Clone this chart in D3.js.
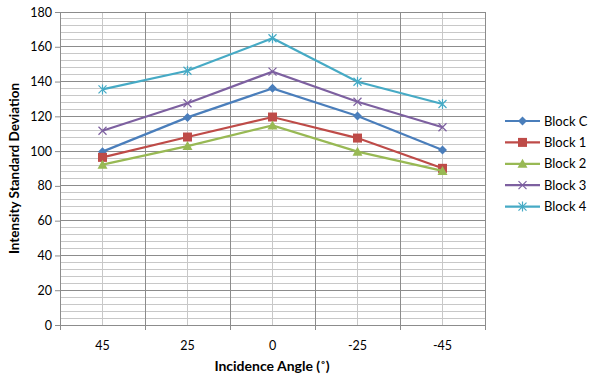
<!DOCTYPE html>
<html><head><meta charset="utf-8">
<script src="https://cdn.jsdelivr.net/npm/d3@7"></script>
<style>body{margin:0;background:#fff;} text{font-family:Lato,"Open Sans",sans-serif;}</style>
</head><body>
<svg id="c" width="594" height="378"></svg>
<script>
const categories = ["45","25","0","-25","-45"];
const seriesNames = ["Block C","Block 1","Block 2","Block 3","Block 4"];
const blockC = [99.7,119.4,136.1,120.2,100.6];
const block1 = [96.4,108.1,119.6,107.5,90.1];
const block2 = [92.2,102.9,114.8,99.7,88.6];
const block3 = [111.7,127.5,145.7,128.4,113.7];
const block4 = [135.5,146.2,164.9,139.9,127.1];
const yTicks = [0,20,40,60,80,100,120,140,160,180];
const colors = ["#4A7EBB","#BE4B48","#98B954","#7D60A0","#46AAC5"];
const markers = ["diamond","square","triangle","x","star"];
const seriesData = [blockC,block1,block2,block3,block4];

const svg = d3.select("#c");
const L=60,R=485,T=12,B=325;
const x = d3.scaleBand().domain(categories).range([L,R]);
const y = d3.scaleLinear().domain([0,180]).range([B,T]);

const g = svg.append("g");
d3.range(0,181,4).forEach(v=>{
  if(v%20!==0) g.append("line").attr("x1",L).attr("x2",R).attr("y1",y(v)).attr("y2",y(v)).attr("stroke","#c8c8c8").attr("stroke-width",1).attr("shape-rendering","crispEdges");
});
categories.forEach(c=>{
  const cx=x(c)+x.bandwidth()/2;
  g.append("line").attr("x1",cx).attr("x2",cx).attr("y1",T).attr("y2",B).attr("stroke","#c8c8c8").attr("shape-rendering","crispEdges");
});
yTicks.forEach(v=>{
  g.append("line").attr("x1",L).attr("x2",R).attr("y1",y(v)).attr("y2",y(v)).attr("stroke","#8c8c8c").attr("shape-rendering","crispEdges");
});
categories.concat(["end"]).forEach((c,i)=>{
  const bx = i<categories.length? x(c): R;
  g.append("line").attr("x1",bx).attr("x2",bx).attr("y1",T).attr("y2",B+5).attr("stroke","#8c8c8c").attr("shape-rendering","crispEdges");
});
const ya = svg.append("g").attr("transform",`translate(${L},0)`).call(d3.axisLeft(y).tickValues(yTicks).tickSize(5).tickPadding(3));
ya.select(".domain").attr("stroke","#8c8c8c");
ya.selectAll(".tick line").attr("stroke","#8c8c8c");
ya.selectAll("text").attr("font-size",12.5).attr("fill","#000").style("font-family","Lato,sans-serif");
const xa = svg.append("g").attr("transform",`translate(0,${B})`).call(d3.axisBottom(x).tickSize(0).tickPadding(16));
xa.select(".domain").attr("stroke","#8c8c8c");
xa.selectAll("text").attr("font-size",12.5).attr("fill","#000").style("font-family","Lato,sans-serif");

svg.append("text").attr("x",272).attr("y",371).attr("text-anchor","middle").attr("font-size",14).attr("font-weight","bold").text("Incidence Angle (˚)");
svg.append("text").attr("transform",`translate(19,${(T+B)/2}) rotate(-90)`).attr("text-anchor","middle").attr("font-size",13.5).attr("font-weight","bold").text("Intensity Standard Deviation");

function marker(sel,type,color){
  if(type==="diamond") sel.append("path").attr("d","M0,-4.5L4.5,0L0,4.5L-4.5,0Z").attr("fill",color);
  else if(type==="square") sel.append("rect").attr("x",-4.5).attr("y",-4.5).attr("width",9).attr("height",9).attr("fill",color);
  else if(type==="triangle") sel.append("path").attr("d","M0,-5L5,4L-5,4Z").attr("fill",color);
  else if(type==="x") sel.append("path").attr("d","M-4,-4L4,4M-4,4L4,-4").attr("stroke",color).attr("stroke-width",1.2).attr("fill","none");
  else sel.append("path").attr("d","M-4,-4L4,4M-4,4L4,-4M0,-5L0,5").attr("stroke",color).attr("stroke-width",1.2).attr("fill","none");
}
const line = d3.line().x((d,i)=>x(categories[i])+x.bandwidth()/2).y(d=>y(d));
seriesData.forEach((s,k)=>{
  svg.append("path").datum(s).attr("d",line).attr("fill","none").attr("stroke",colors[k]).attr("stroke-width",2.2);
  s.forEach((v,i)=>{
    const m = svg.append("g").attr("transform",`translate(${x(categories[i])+x.bandwidth()/2},${y(v)})`);
    marker(m,markers[k],colors[k]);
  });
});
seriesNames.forEach((n,k)=>{
  const ly = 121 + k*21.4;
  svg.append("line").attr("x1",505).attr("x2",540).attr("y1",ly).attr("y2",ly).attr("stroke",colors[k]).attr("stroke-width",2.2);
  marker(svg.append("g").attr("transform",`translate(522.5,${ly})`),markers[k],colors[k]);
  svg.append("text").attr("x",544).attr("y",ly+4.5).attr("font-size",13).attr("fill","#000").text(n);
});
</script>
</body></html>
